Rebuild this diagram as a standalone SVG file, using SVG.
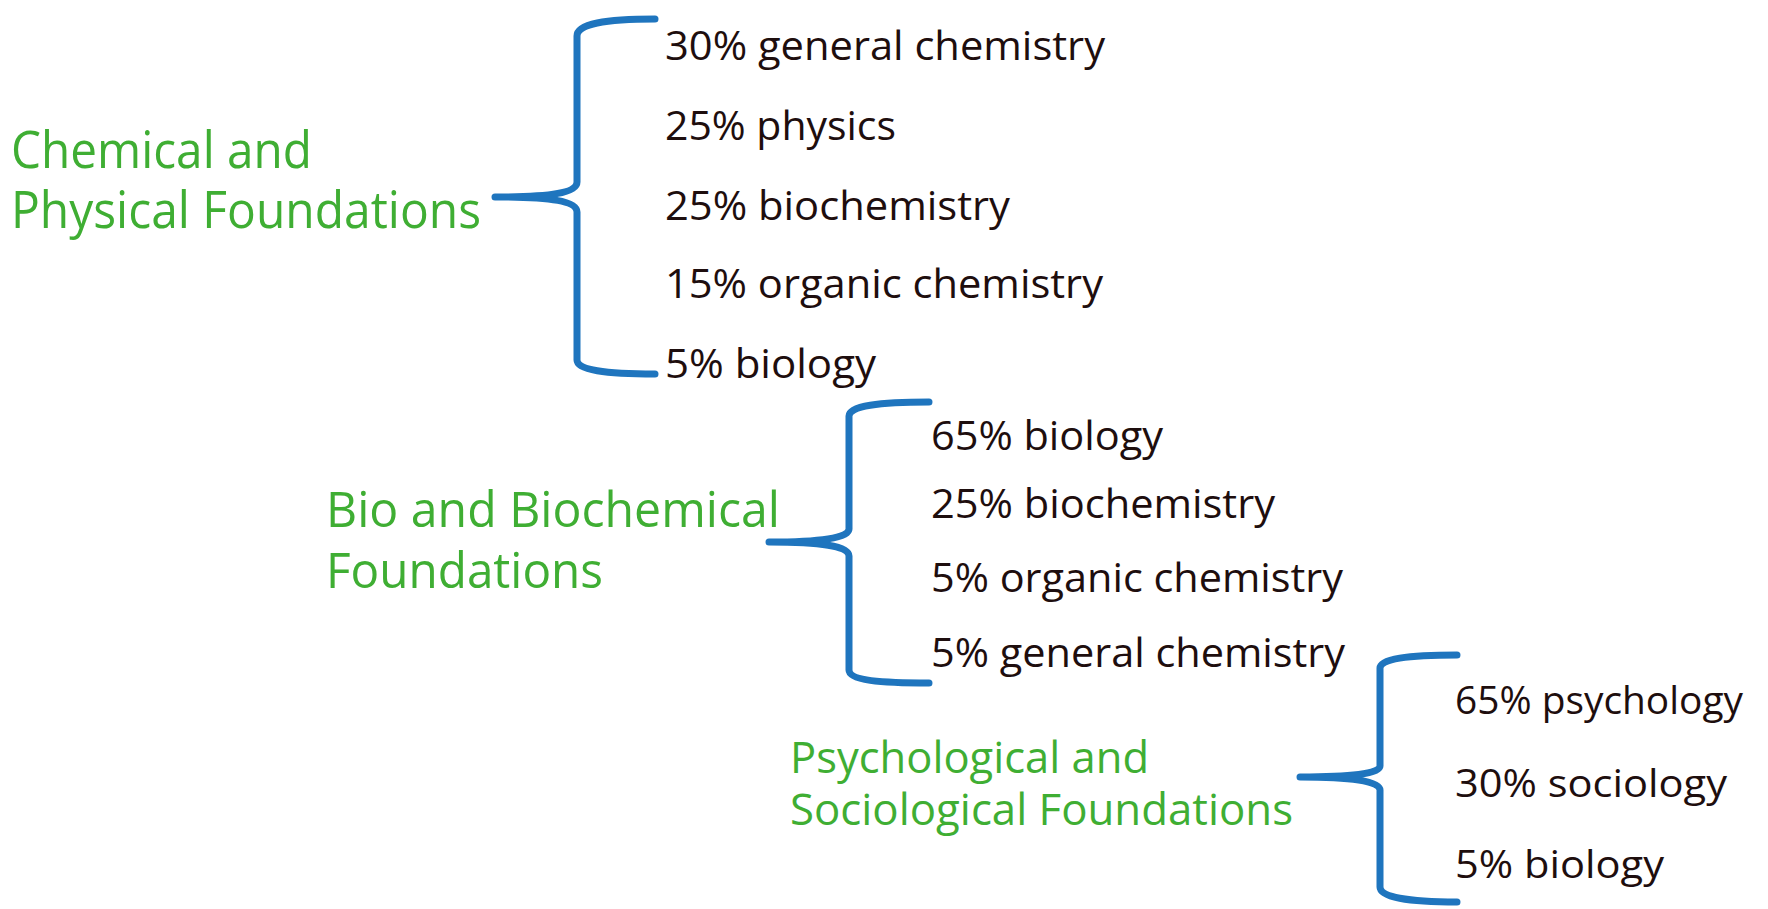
<svg xmlns="http://www.w3.org/2000/svg" width="1768" height="909" viewBox="0 0 1768 909">
  <style>
    .bg { fill: #ffffff; }
    .brace { fill: none; stroke: #1f75be; stroke-width: 7; stroke-linecap: round; stroke-linejoin: round; }
    .head { font-family: "Open Sans", "Noto Sans", sans-serif; fill: #3fae33; }
    .item { font-family: "Open Sans", "Noto Sans", sans-serif; fill: #1e0e0e; }
  </style>
  <rect class="bg" x="0" y="0" width="1768" height="909"/>

  <!-- braces linking each section to its subject breakdown -->
  <g id="connectors">
    <path class="brace" d="M655,19 C605,19 577,24 577,36 L577,182 C577,193 550,197 495,197 C550,197 577,201 577,212 L577,360 C577,370 605,374 655,374"/>
    <path class="brace" d="M929,402 C879,402 849,406 849,416 L849,529 C849,538 820,542 769,542 C820,542 849,546 849,556 L849,670 C849,680 879,683 929,683"/>
    <path class="brace" d="M1457,655 C1407,655 1380,659 1380,668 L1380,766 C1380,774 1350,777 1300,777 C1350,777 1380,781 1380,790 L1380,887 C1380,897 1407,902 1457,902"/>
  </g>

  <!-- section 1 -->
  <g id="chem-phys">
    <text class="head" font-size="52" x="11" y="168" textLength="301" lengthAdjust="spacingAndGlyphs">Chemical and</text>
    <text class="head" font-size="52" x="11" y="228" textLength="470" lengthAdjust="spacingAndGlyphs">Physical Foundations</text>
  </g>
  <g id="chem-phys-items">
    <text class="item" font-size="40" x="665" y="60" textLength="440" lengthAdjust="spacingAndGlyphs">30% general chemistry</text>
    <text class="item" font-size="40" x="665" y="140" textLength="231" lengthAdjust="spacingAndGlyphs">25% physics</text>
    <text class="item" font-size="40" x="665" y="220" textLength="345" lengthAdjust="spacingAndGlyphs">25% biochemistry</text>
    <text class="item" font-size="40" x="665" y="298" textLength="438" lengthAdjust="spacingAndGlyphs">15% organic chemistry</text>
    <text class="item" font-size="40" x="665" y="378" textLength="211" lengthAdjust="spacingAndGlyphs">5% biology</text>
  </g>

  <!-- section 2 -->
  <g id="bio-biochem">
    <text class="head" font-size="49" x="326" y="527" textLength="454" lengthAdjust="spacingAndGlyphs">Bio and Biochemical</text>
    <text class="head" font-size="49" x="326" y="588" textLength="277" lengthAdjust="spacingAndGlyphs">Foundations</text>
  </g>
  <g id="bio-biochem-items">
    <text class="item" font-size="40" x="931" y="450" textLength="232" lengthAdjust="spacingAndGlyphs">65% biology</text>
    <text class="item" font-size="40" x="931" y="518" textLength="344" lengthAdjust="spacingAndGlyphs">25% biochemistry</text>
    <text class="item" font-size="40" x="931" y="592" textLength="412" lengthAdjust="spacingAndGlyphs">5% organic chemistry</text>
    <text class="item" font-size="40" x="931" y="667" textLength="414" lengthAdjust="spacingAndGlyphs">5% general chemistry</text>
  </g>

  <!-- section 3 -->
  <g id="psych-soc">
    <text class="head" font-size="44" x="790" y="773" textLength="359" lengthAdjust="spacingAndGlyphs">Psychological and</text>
    <text class="head" font-size="44" x="790" y="825" textLength="503" lengthAdjust="spacingAndGlyphs">Sociological Foundations</text>
  </g>
  <g id="psych-soc-items">
    <text class="item" font-size="38" x="1455" y="714" textLength="288" lengthAdjust="spacingAndGlyphs">65% psychology</text>
    <text class="item" font-size="38" x="1455" y="797" textLength="272" lengthAdjust="spacingAndGlyphs">30% sociology</text>
    <text class="item" font-size="38" x="1455" y="878" textLength="209" lengthAdjust="spacingAndGlyphs">5% biology</text>
  </g>
</svg>
